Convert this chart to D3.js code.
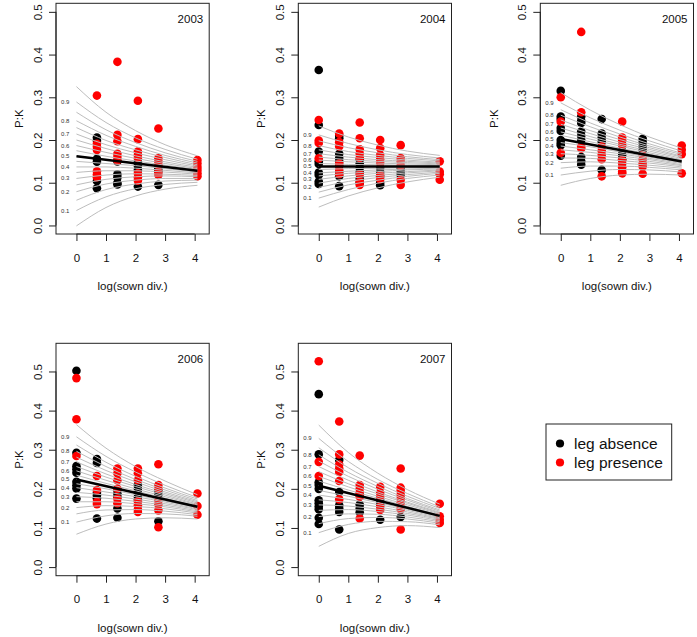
<!DOCTYPE html>
<html><head><meta charset="utf-8">
<script src="https://cdn.jsdelivr.net/npm/d3@7"></script>
<style>body{margin:0;background:#fff;} svg{display:block;font-family:"Liberation Sans",Arial,sans-serif;}</style>
</head><body><svg id="chart" width="697" height="637"></svg>
<script>
// ---------- data ----------
const years = ["2003", "2004", "2005", "2006", "2007"];
const diversityLevels = [0, 0.693, 1.386, 2.079, 2.773, 4.094]; // log(sown div.)
const xTicks = [0, 1, 2, 3, 4];
const yTicks = [0, 0.1, 0.2, 0.3, 0.4, 0.5];
const legendLabels = ["leg absence", "leg presence"];
const quantiles = [0.05,0.1,0.15,0.2,0.25,0.3,0.35,0.4,0.45,0.5,0.55,0.6,0.65,0.7,0.75,0.8,0.85,0.9,0.95];
const quantileLabels = ["0.1","0.2","0.3","0.4","0.5","0.6","0.7","0.8","0.9"];
const curveX = [0, 1, 2, 3, 4.094];
const fitX = [0, 4.094];

// P:K per diversity level (one inner array per level)
const absence2003 = [[], [0.206,0.198,0.156,0.149,0.104,0.087], [0.15,0.12,0.112,0.1,0.096], [0.148,0.14,0.13,0.091], [0.134,0.127,0.095], []];
const presence2003 = [[], [0.304,0.191,0.184,0.177,0.127,0.119,0.113], [0.383,0.212,0.197,0.168,0.16,0.152], [0.292,0.202,0.173,0.165,0.158,0.122,0.113,0.105], [0.227,0.157,0.149,0.141,0.125,0.118], [0.153,0.145,0.137,0.13,0.122,0.115]];
const absence2004 = [[0.364,0.235,0.173,0.15,0.144,0.124,0.118,0.103,0.097], [0.21,0.204,0.168,0.158,0.15,0.14,0.125,0.115,0.092], [0.155,0.145,0.135,0.125,0.11,0.1], [0.135,0.125,0.115,0.1,0.094], [0.134,0.125,0.118], []];
const presence2004 = [[0.247,0.199,0.193,0.157], [0.215,0.195,0.185,0.145,0.13,0.12], [0.241,0.204,0.178,0.168,0.158,0.12,0.103,0.095], [0.2,0.181,0.165,0.155,0.146,0.118,0.108], [0.188,0.158,0.15,0.14,0.107,0.095], [0.15,0.126,0.12,0.107]];
const absence2005 = [[0.315,0.255,0.249,0.228,0.221,0.2,0.193,0.188,0.163], [0.255,0.245,0.24,0.22,0.21,0.2,0.16,0.15,0.142], [0.249,0.215,0.205,0.196,0.13], [0.175,0.165,0.155], [0.203,0.195,0.185,0.176], []];
const presence2005 = [[0.3,0.243,0.17], [0.453,0.265,0.185,0.18], [0.185,0.175,0.165,0.155,0.115], [0.243,0.206,0.198,0.188,0.153,0.145,0.136,0.126,0.122], [0.165,0.155,0.145,0.138,0.121], [0.187,0.177,0.167,0.122]];
const absence2006 = [[0.502,0.292,0.258,0.25,0.241,0.218,0.209,0.201,0.175], [0.276,0.266,0.19,0.183,0.176,0.124], [0.198,0.188,0.18,0.15,0.126], [0.21,0.2,0.19,0.18,0.172], [0.195,0.185,0.117], []];
const presence2006 = [[0.483,0.378,0.284], [0.233,0.197,0.167,0.161], [0.252,0.24,0.222,0.2,0.175,0.163], [0.252,0.24,0.222,0.168,0.158,0.148,0.141], [0.263,0.21,0.2,0.17,0.16,0.145,0.102], [0.188,0.156,0.134]];
const absence2007 = [[0.442,0.288,0.217,0.21,0.2,0.171,0.163,0.155,0.148,0.126,0.11], [0.274,0.192,0.158,0.15,0.141,0.096], [0.185,0.16,0.15,0.14], [0.171,0.16,0.121], [0.128], []];
const presence2007 = [[0.526,0.269,0.233], [0.372,0.288,0.262,0.252,0.243,0.22,0.173], [0.285,0.21,0.2,0.19,0.18,0.124], [0.205,0.19,0.18,0.155,0.146], [0.252,0.203,0.195,0.185,0.175,0.165,0.155,0.148,0.096], [0.162,0.13,0.121,0.113]];

// fitted regression line at fitX
const fit2003 = [0.162, 0.128];
const fit2004 = [0.138, 0.138];
const fit2005 = [0.2025, 0.1495];
const fit2006 = [0.224, 0.154];
const fit2007 = [0.208, 0.131];

// quantile curves (rows = quantiles, columns = curveX)
const curves2003 = [
[-0.001,0.042,0.069,0.085,0.094],[0.035,0.067,0.086,0.096,0.101],[0.059,0.084,0.097,0.104,0.106],
[0.079,0.097,0.106,0.110,0.110],[0.095,0.108,0.114,0.116,0.114],[0.110,0.118,0.121,0.120,0.117],
[0.124,0.128,0.128,0.125,0.120],[0.137,0.137,0.134,0.129,0.123],[0.150,0.145,0.140,0.133,0.125],
[0.162,0.154,0.145,0.137,0.128],[0.175,0.162,0.151,0.141,0.131],[0.187,0.171,0.157,0.145,0.133],
[0.200,0.180,0.163,0.149,0.136],[0.214,0.189,0.170,0.154,0.139],[0.229,0.199,0.177,0.159,0.142],
[0.245,0.211,0.185,0.164,0.146],[0.265,0.224,0.194,0.170,0.150],[0.289,0.241,0.205,0.178,0.155],
[0.325,0.265,0.222,0.189,0.163]];
const curves2004 = [
[0.043,0.069,0.088,0.102,0.113],[0.064,0.084,0.099,0.110,0.118],[0.078,0.095,0.106,0.115,0.122],
[0.089,0.103,0.112,0.119,0.125],[0.099,0.110,0.117,0.123,0.128],[0.108,0.116,0.122,0.126,0.130],
[0.116,0.122,0.126,0.130,0.132],[0.123,0.127,0.130,0.132,0.134],[0.131,0.133,0.134,0.135,0.136],
[0.138,0.138,0.138,0.138,0.138],[0.145,0.143,0.142,0.141,0.140],[0.153,0.149,0.146,0.144,0.142],
[0.160,0.154,0.150,0.147,0.144],[0.168,0.160,0.154,0.150,0.146],[0.177,0.166,0.159,0.153,0.148],
[0.187,0.173,0.164,0.157,0.151],[0.198,0.182,0.170,0.161,0.154],[0.212,0.192,0.177,0.166,0.158],
[0.233,0.207,0.188,0.174,0.164]];
const curves2005 = [
[0.094,0.110,0.118,0.120,0.118],[0.118,0.127,0.131,0.130,0.125],[0.134,0.139,0.139,0.136,0.130],
[0.147,0.149,0.146,0.141,0.134],[0.158,0.157,0.152,0.146,0.137],[0.168,0.164,0.158,0.150,0.140],
[0.177,0.171,0.163,0.154,0.142],[0.186,0.177,0.168,0.157,0.145],[0.194,0.184,0.172,0.160,0.147],
[0.202,0.190,0.177,0.164,0.150],[0.211,0.196,0.181,0.167,0.152],[0.219,0.202,0.186,0.170,0.154],
[0.228,0.208,0.190,0.174,0.157],[0.237,0.215,0.195,0.178,0.160],[0.247,0.222,0.201,0.182,0.162],
[0.258,0.231,0.207,0.186,0.166],[0.271,0.240,0.214,0.191,0.169],[0.287,0.252,0.223,0.198,0.174],
[0.311,0.270,0.236,0.207,0.181]];
const curves2006 = [
[0.084,0.110,0.123,0.126,0.123],[0.115,0.131,0.137,0.136,0.130],[0.136,0.146,0.147,0.143,0.134],
[0.152,0.157,0.155,0.149,0.138],[0.167,0.167,0.162,0.154,0.141],[0.180,0.176,0.168,0.158,0.144],
[0.191,0.184,0.174,0.162,0.147],[0.203,0.192,0.180,0.166,0.149],[0.213,0.200,0.185,0.169,0.152],
[0.224,0.207,0.190,0.173,0.154],[0.235,0.214,0.195,0.176,0.156],[0.246,0.222,0.200,0.180,0.159],
[0.257,0.230,0.206,0.184,0.161],[0.269,0.238,0.211,0.188,0.164],[0.281,0.247,0.218,0.192,0.167],
[0.296,0.257,0.224,0.197,0.170],[0.312,0.268,0.232,0.202,0.174],[0.333,0.283,0.243,0.209,0.178],
[0.364,0.304,0.257,0.220,0.185]];
const curves2007 = [
[0.053,0.086,0.101,0.106,0.101],[0.088,0.109,0.117,0.116,0.108],[0.111,0.124,0.127,0.123,0.112],
[0.129,0.136,0.135,0.128,0.116],[0.145,0.147,0.142,0.133,0.119],[0.159,0.156,0.148,0.137,0.122],
[0.172,0.165,0.154,0.141,0.124],[0.184,0.173,0.160,0.145,0.126],[0.196,0.181,0.165,0.148,0.129],
[0.208,0.189,0.170,0.152,0.131],[0.220,0.197,0.176,0.155,0.133],[0.232,0.205,0.181,0.159,0.136],
[0.244,0.213,0.187,0.163,0.138],[0.257,0.222,0.192,0.166,0.140],[0.271,0.232,0.199,0.171,0.143],
[0.287,0.242,0.206,0.175,0.146],[0.305,0.254,0.214,0.181,0.150],[0.329,0.270,0.224,0.188,0.154],
[0.363,0.293,0.240,0.198,0.161]];

// ---------- build ----------
const panelData = [
  {year: years[0], absence: absence2003, presence: presence2003, fit: fit2003, curves: curves2003},
  {year: years[1], absence: absence2004, presence: presence2004, fit: fit2004, curves: curves2004},
  {year: years[2], absence: absence2005, presence: presence2005, fit: fit2005, curves: curves2005},
  {year: years[3], absence: absence2006, presence: presence2006, fit: fit2006, curves: curves2006},
  {year: years[4], absence: absence2007, presence: presence2007, fit: fit2007, curves: curves2007}
];
const colLeft = [56, 298.3, 540.3];
const ylabOffset = [33, 33, 42];
const rowTop = [3.3, 343.3];
const boxW = 153.2, boxH = [230.7, 232.4];
const yDomains = [[-0.02, 0.52], [-0.022, 0.572]];
const xDomain = [-0.692, 4.492];
const colors = {absence: "#000000", presence: "#ff0000"};
const FS = 11.5;

const svg = d3.select("#chart");

panelData.forEach((p, i) => {
  const col = i % 3, row = Math.floor(i / 3);
  const L = colLeft[col], T = rowTop[row], W = boxW, H = boxH[row];
  const x = d3.scaleLinear().domain(xDomain).range([L, L + W]);
  const y = d3.scaleLinear().domain(yDomains[row]).range([T + H, T]);
  const g = svg.append("g");

  // points
  const pts = [];
  p.absence.forEach((vals, k) => vals.forEach(v => pts.push({x: diversityLevels[k], y: v, c: colors.absence})));
  p.presence.forEach((vals, k) => vals.forEach(v => pts.push({x: diversityLevels[k], y: v, c: colors.presence})));
  g.append("g").selectAll("circle").data(pts).join("circle")
    .attr("cx", d => x(d.x)).attr("cy", d => y(d.y)).attr("r", 4.3).attr("fill", d => d.c);

  // quantile curves
  const line = d3.line().x((d, k) => x(curveX[k])).y(d => y(d)).curve(d3.curveMonotoneX);
  g.append("g").selectAll("path").data(p.curves).join("path")
    .attr("d", line).attr("fill", "none").attr("stroke", "#bdbdbd").attr("stroke-width", 1);

  // quantile labels
  g.append("g").selectAll("text").data(quantileLabels).join("text")
    .attr("x", x(-0.38)).attr("y", d => y(p.curves[quantiles.indexOf(+d)][0]) + 2)
    .attr("text-anchor", "middle").attr("font-size", 6).attr("fill", "#333").text(d => d);

  // regression line
  g.append("path").datum(p.fit)
    .attr("d", d3.line().x((d, k) => x(fitX[k])).y(d => y(d)))
    .attr("stroke", "#000").attr("stroke-width", 2.5).attr("fill", "none");

  // box
  g.append("rect").attr("x", L).attr("y", T).attr("width", W).attr("height", H)
    .attr("fill", "none").attr("stroke", "#222").attr("stroke-width", 1);

  // x axis
  const xa = g.append("g").attr("transform", `translate(0,${T + H})`)
    .call(d3.axisBottom(x).tickValues(xTicks).tickSize(7).tickFormat(d3.format("d")));
  xa.select(".domain").attr("d", `M${x(xTicks[0])},0H${x(xTicks[xTicks.length-1])}`).attr("stroke", "#222");
  xa.selectAll(".tick line").attr("stroke", "#222");
  xa.selectAll(".tick text").attr("y", 27.5).attr("dy", 0).attr("font-size", FS)
    .attr("font-family", "Liberation Sans, Arial, sans-serif").attr("fill", "#111");

  // y axis
  const ya = g.append("g").attr("transform", `translate(${L},0)`)
    .call(d3.axisLeft(y).tickValues(yTicks).tickSize(7).tickFormat(d3.format(".1f")));
  ya.select(".domain").attr("d", `M0,${y(yTicks[0])}V${y(yTicks[yTicks.length-1])}`).attr("stroke", "#222");
  ya.selectAll(".tick line").attr("stroke", "#222");
  ya.selectAll(".tick text").attr("transform", "rotate(-90)").attr("x", 0).attr("y", -14).attr("dy", 0)
    .attr("text-anchor", "middle").attr("font-size", FS)
    .attr("font-family", "Liberation Sans, Arial, sans-serif").attr("fill", "#111");

  // titles
  g.append("text").attr("x", L + W / 2).attr("y", T + H + 56).attr("text-anchor", "middle")
    .attr("font-size", FS).attr("fill", "#111").text("log(sown div.)");
  g.append("text").attr("transform", `translate(${L - ylabOffset[col]},${T + H / 2}) rotate(-90)`)
    .attr("text-anchor", "middle").attr("font-size", FS).attr("fill", "#111").text("P:K");
  g.append("text").attr("x", L + W - 6).attr("y", T + 19.3).attr("text-anchor", "end")
    .attr("font-size", FS).attr("fill", "#111").text(p.year);
});

// legend
const lg = svg.append("g");
lg.append("rect").attr("x", 546).attr("y", 424).attr("width", 125.7).attr("height", 56)
  .attr("fill", "#fff").attr("stroke", "#222").attr("stroke-width", 1);
const legendColors = [colors.absence, colors.presence];
const li = lg.selectAll("g.item").data(legendLabels).join("g").attr("class", "item")
  .attr("transform", (d, k) => `translate(0,${443.5 + k * 19})`);
li.append("circle").attr("cx", 560).attr("cy", 0).attr("r", 4.1).attr("fill", (d, k) => legendColors[k]);
li.append("text").attr("x", 574).attr("y", 5.5).attr("font-size", 15.5).attr("fill", "#111").text(d => d);
</script>
</body></html>
